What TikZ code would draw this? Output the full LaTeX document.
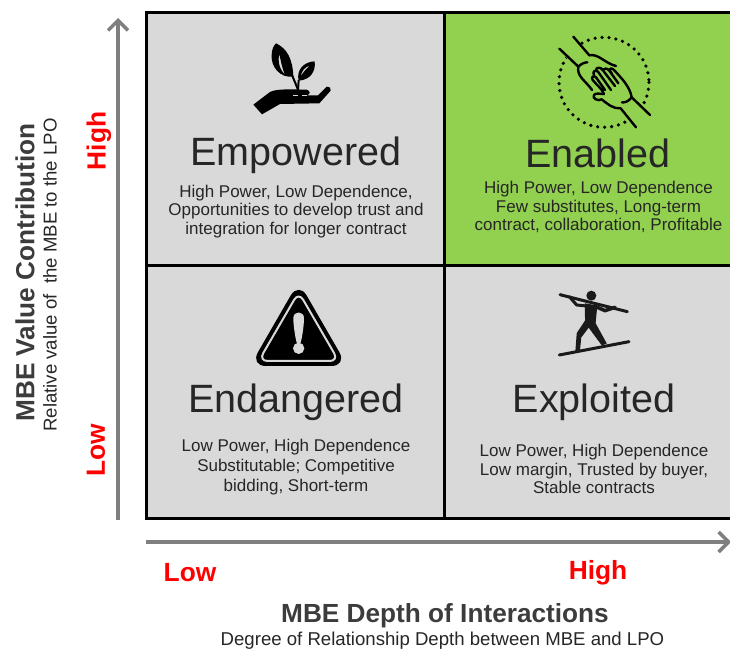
\documentclass[tikz,border=0pt]{standalone}
\usepackage{fontspec}
\setmainfont{Liberation Sans}
\usetikzlibrary{arrows.meta}
\definecolor{cellgray}{HTML}{D9D9D9}
\definecolor{cellgreen}{HTML}{92D050}
\definecolor{axisgray}{HTML}{7F7F7F}
\definecolor{ink}{HTML}{262626}
\tikzset{
  cell/.style={draw=black,line width=3pt,minimum width=298pt,inner sep=0pt,outer sep=0pt,anchor=north west},
  title/.style={font=\fontsize{39.5}{42}\selectfont,text=ink,inner sep=0pt},
  body/.style={font=\fontsize{17}{18.6}\selectfont,text=ink,align=center,inner sep=0pt},
  axisline/.style={draw=axisgray,line width=4.5pt,-{Straight Barb[length=10pt,width=20pt,line width=3.5pt]}},
  level/.style={font=\bfseries\fontsize{26.3}{28}\selectfont,text=red,inner sep=0pt},
  axistitle/.style={font=\bfseries\fontsize{26.2}{28}\selectfont,text=ink!90!white,inner sep=0pt},
  axissub/.style={font=\fontsize{18.6}{20}\selectfont,text=ink,inner sep=0pt},
  iconline/.style={draw=black,line cap=round,line join=round},
}
\begin{document}
\begin{tikzpicture}[x=1pt,y=-1pt]
\useasboundingbox (0,0) rectangle (730,650);
\fill[white] (0,0) rectangle (730,650);
% grid
\node[cell,fill=cellgray,minimum height=253pt] (nw) at (146,12.5) {};
\node[cell,fill=cellgreen,minimum height=253pt] (ne) at (444,12.5) {};
\node[cell,fill=cellgray,minimum height=253pt] (sw) at (146,265.5) {};
\node[cell,fill=cellgray,minimum height=253pt] (se) at (444,265.5) {};
% axes
\coordinate (ya) at (118,520);
\coordinate (yb) at (118,18);
\coordinate (xa) at (146,542);
\coordinate (xb) at (731,542);
\draw[axisline] (ya) -- (yb);
\draw[axisline] (xa) -- (xb);
% cell texts
\node[title] (t1) at (296,155) {Empowered};
\node[body] (b1) at (296,211.5) {High Power, Low Dependence,\\Opportunities to develop trust and\\integration for longer contract};
\node[title] (t2) at (598,153.5) {Enabled};
\node[body] (b2) at (598.5,207) {High Power, Low Dependence\\Few substitutes, Long-term\\contract, collaboration, Profitable};
\node[title] (t3) at (296,402) {Endangered};
\node[body] (b3) at (296,467) {Low Power, High Dependence\\[1.8pt]Substitutable; Competitive\\[1.8pt]bidding, Short-term};
\node[title] (t4) at (594,402) {Exploited};
\node[body] (b4) at (594,469) {Low Power, High Dependence\\Low margin, Trusted by buyer,\\Stable contracts};
% axis labels
\node[level,rotate=90] (h1) at (99,141) {High};
\node[level,rotate=90] (l1) at (96,450) {Low};
\node[level] (l2) at (190,573) {Low};
\node[level] (h2) at (598,573) {High};
\node[axistitle,rotate=90] (yt) at (25,272.5) {MBE Value Contribution};
\node[axissub,rotate=90] (ys) at (50,275) {Relative value of\ \ the MBE to the LPO};
\node[axistitle] (xt) at (445,616) {MBE Depth of Interactions};
\node[axissub] (xs) at (442.5,640.5) {Degree of Relationship Depth between MBE and LPO};
% plant icon
\begin{scope}[shift={(230,20)},x=0.3333pt,y=-0.3333pt]
\fill[black,even odd rule] (138,70) .. controls (170,85) and (188,115) .. (190,170) .. controls (150,175) and (122,140) .. (125,105) .. controls (125,90) and (130,78) .. (138,70) -- cycle
 (148,102) .. controls (142,125) and (150,150) .. (165,165) .. controls (155,140) and (152,120) .. (148,102) -- cycle;
\fill[black,even odd rule] (254,124) .. controls (258,155) and (240,180) .. (206,182) .. controls (198,150) and (222,125) .. (254,124) -- cycle
 (240,137) .. controls (225,140) and (215,152) .. (212,170) .. controls (220,155) and (230,145) .. (240,137) -- cycle;
\draw[black,line width=2pt] (170,125) .. controls (185,165) and (195,185) .. (205,212);
\draw[black,line width=2pt] (206,180) -- (204,212);
\fill[black] (70,254) -- (120,216) .. controls (140,206) and (180,208) .. (230,209) .. controls (242,212) and (242,224) .. (230,226) -- (264,226) -- (290,200) .. controls (298,198) and (305,205) .. (302,212) -- (268,250) -- (150,252) -- (96,283) -- cycle;
\draw[cellgray,line width=0.7pt] (190,227) -- (204,227) (215,227) -- (232,227);
\end{scope}
% handshake icon
\begin{scope}[shift={(530,20)},x=0.3333pt,y=-0.3333pt]
\draw[black,line width=3.6pt,line cap=round,dash pattern=on 0pt off 7pt] (222,187) circle [x radius=135,y radius=135];
\begin{scope}[line width=2.4pt]
\fill[cellgreen] (130,50) -- (90,88) -- (185,210) -- (190,235) -- (250,265) -- (318,322) -- (360,285) -- (300,230) -- (260,130) -- (180,105) -- cycle;
\draw[iconline] (130,50) -- (178,106) .. controls (205,100) and (225,130) .. (258,138);
\draw[iconline] (88,86) -- (145,140) .. controls (155,130) and (165,127) .. (172,127);
\draw[iconline] (145,140) .. controls (140,170) and (165,180) .. (186,210);
\draw[iconline] (360,285) -- (305,232) .. controls (300,200) and (275,175) .. (250,148) .. controls (240,140) and (235,150) .. (245,160);
\draw[iconline] (305,232) .. controls (295,245) and (285,248) .. (276,247);
\draw[iconline] (318,322) -- (272,265) .. controls (250,268) and (230,250) .. (215,238) .. controls (205,245) and (185,235) .. (192,225) .. controls (197,218) and (210,222) .. (222,222);
\draw[iconline] (222,222) .. controls (215,205) and (200,195) .. (188,180) .. controls (182,170) and (192,165) .. (198,172) -- (225,210);
\draw[iconline] (192,165) .. controls (186,155) and (196,148) .. (204,155) -- (243,210);
\draw[iconline] (198,150) .. controls (198,142) and (212,140) .. (218,150) -- (255,198);
\draw[iconline] (218,150) .. controls (222,143) and (232,145) .. (238,152) -- (265,190);
\end{scope}
\end{scope}
% warning icon
\begin{scope}[shift={(240,280)},x=0.3333pt,y=-0.3333pt]
\fill[black,rounded corners=16pt] (176,5) -- (322,258) -- (30,258) -- cycle;
\draw[cellgray,line width=2pt,rounded corners=9pt] (176,36) -- (296,243) -- (56,243) -- cycle;
\fill[cellgray] (160,114) .. controls (160,92) and (192,92) .. (192,114) .. controls (192,140) and (185,180) .. (181,190) -- (171,190) .. controls (167,180) and (160,140) .. (160,114) -- cycle;
\fill[cellgray] (176,205) circle [radius=17];
\end{scope}
% tightrope icon
\begin{scope}[shift={(540,280)},x=0.3333pt,y=-0.3333pt]
\definecolor{figink}{HTML}{1A1A1A}
\draw[figink,line width=3pt,line cap=round] (60,44) -- (262,95);
\draw[figink,line width=3pt,line cap=round] (58,225) -- (267,185);
\fill[figink] (154,47) circle [radius=15];
\fill[figink,draw=figink,line width=1.2pt,line join=round] (136,72) -- (170,78) -- (165,130) -- (198,190) -- (186,194) -- (146,140) -- (122,172) -- (118,212) -- (108,212) -- (112,160) -- (137,122) -- cycle;
\draw[figink,line width=3pt,line join=round,line cap=round] (88,50) -- (110,75) -- (140,78);
\draw[figink,line width=3.6pt,line join=round,line cap=round] (168,80) -- (195,92) -- (225,82);
\end{scope}
\end{tikzpicture}
\end{document}
